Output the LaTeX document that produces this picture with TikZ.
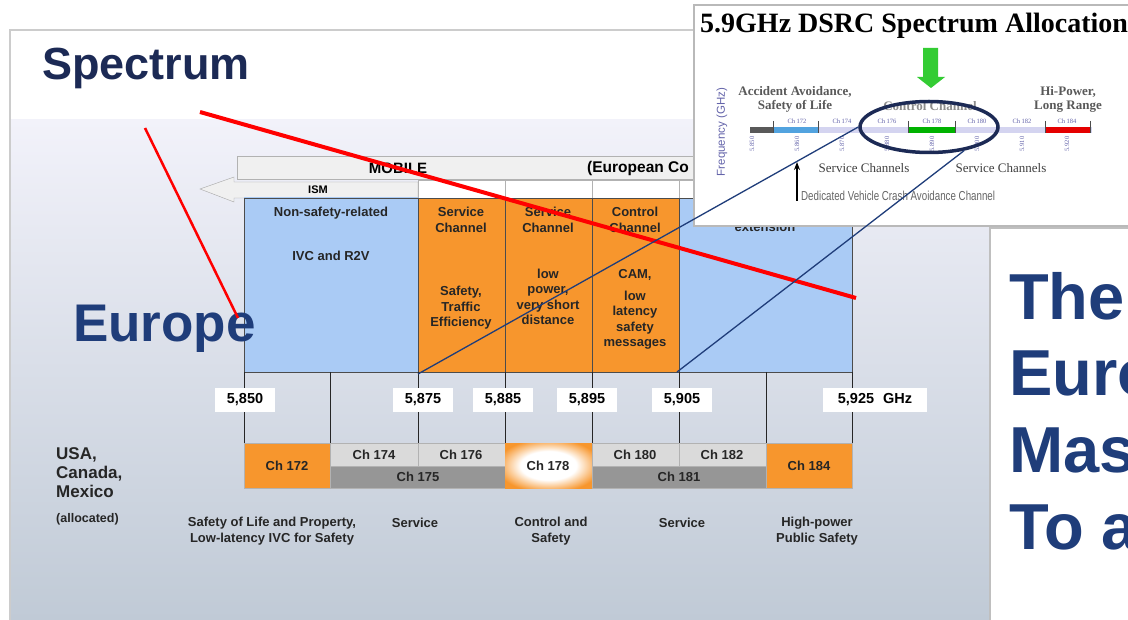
\documentclass[tikz,border=0pt]{standalone}
\usepackage{fontspec}
\setmainfont{Liberation Sans}
\newfontfamily\timesfont{Liberation Serif}
\usetikzlibrary{shapes.geometric,arrows.meta}
\definecolor{navy}{RGB}{28,42,85}
\definecolor{eublue}{RGB}{31,61,122}
\definecolor{chorange}{RGB}{247,150,45}
\definecolor{cellblue}{RGB}{170,203,245}
\definecolor{slidetop}{RGB}{242,242,250}
\definecolor{slidebot}{RGB}{192,202,214}
\definecolor{chgray}{RGB}{218,218,218}
\definecolor{chdark}{RGB}{150,150,150}
\definecolor{axispurple}{RGB}{100,100,170}
\definecolor{axisbar}{RGB}{212,212,240}
\pgfdeclareradialshading{chglow}{\pgfpoint{0bp}{0bp}}{color(0bp)=(white); color(16bp)=(white); color(30bp)=(chorange); color(100bp)=(chorange)}
\tikzset{
  bandtxt/.style={font=\bfseries\fontsize{13}{15.5}\selectfont, align=center, text=black!85, inner sep=0pt},
  freqbox/.style={fill=white, font=\bfseries\fontsize{14.5}{16}\selectfont, inner sep=0pt, minimum width=60pt, minimum height=24pt},
  chtxt/.style={font=\bfseries\fontsize{13}{15}\selectfont, text=black!85},
  cellline/.style={draw=gray!60!black, line width=0.6pt},
  bigtxt/.style={anchor=base west, inner sep=0pt, text=eublue, font=\bfseries\fontsize{65}{76}\selectfont},
  insettxt/.style={font=\timesfont\bfseries\fontsize{13}{14}\selectfont, align=center, text=black!65},
  tinytxt/.style={font=\timesfont\fontsize{6.5}{7}\selectfont, text=axispurple, inner sep=0pt},
}
\begin{document}
\begin{tikzpicture}[x=1pt,y=-1pt]
\clip (0,0) rectangle (1128,620);
% slide background
\fill[white] (0,0) rectangle (1128,620);
\shade[top color=slidetop, bottom color=slidebot] (10,120) rectangle (1128,620);
\draw[gray!40, line width=1.5pt] (10,620) -- (10,30) -- (1128,30);
\node[anchor=base west, inner sep=0pt, text=navy, font=\bfseries\fontsize{45}{50}\selectfont] (spectrum) at (42,80) {Spectrum};
% mobile and ism bars
\draw[gray!60, fill=gray!12] (237,156) rectangle (852,179);
\node[font=\bfseries\fontsize{15}{17}\selectfont] (mobile) at (398,168) {MOBILE};
\node[anchor=west, inner sep=0pt, font=\bfseries\fontsize{15.5}{17}\selectfont] (european) at (587,168) {(European Co};
\draw[gray!70, fill=gray!12] (200,189) -- (234,177) -- (234,182) -- (418,182) -- (418,198) -- (234,198) -- (234,202) -- cycle;
\node[font=\bfseries\fontsize{11}{13}\selectfont] (ism) at (318,190) {ISM};
\draw[gray!60, fill=white] (418,180) rectangle (505,198);
\draw[gray!60, fill=white] (505,180) rectangle (592,198);
\draw[gray!60, fill=white] (592,180) rectangle (679,198);
\draw[gray!60, fill=white] (679,180) rectangle (766,198);
\draw[gray!60, fill=white] (766,180) rectangle (852,198);
% europe band
\shade[top color=cellblue, middle color=white, bottom color=cellblue] (244,198) rectangle (418,372);
\draw[cellline] (244,198) rectangle (418,372);
\filldraw[fill=chorange, cellline] (418,198) rectangle (505,372);
\filldraw[fill=chorange, cellline] (505,198) rectangle (592,372);
\filldraw[fill=chorange, cellline] (592,198) rectangle (679,372);
\filldraw[fill=cellblue, cellline] (679,198) rectangle (852,372);
\node[bandtxt] (nonsafety) at (331,213) {Non-safety-related};
\node[bandtxt] (ivc) at (331,256) {IVC and R2V};
\node[bandtxt] (sch1) at (461,220) {Service\\Channel};
\node[bandtxt] (traffic) at (461,308) {Safety,\\Traffic\\Efficiency};
\node[bandtxt] (sch2) at (548,220) {Service\\Channel};
\node[bandtxt] (lowpower) at (548,297) {low\\power,\\very short\\distance};
\node[bandtxt] (cch) at (635,220) {Control\\Channel};
\node[bandtxt] (cam) at (635,275) {CAM,};
\node[bandtxt] (lowlat) at (635,320) {low\\latency\\safety\\messages};
\node[bandtxt] (ext) at (765,227) {extension};
% frequency grid
\foreach \x in {244,330,418,505,592,679,766,852}
  \draw[gray!30!black, line width=0.6pt] (\x,372) -- (\x,443);
\node[freqbox] (f850) at (245,400) {5,850};
\node[freqbox] (f875) at (423,400) {5,875};
\node[freqbox] (f885) at (503,400) {5,885};
\node[freqbox] (f895) at (587,400) {5,895};
\node[freqbox] (f905) at (682,400) {5,905};
\node[freqbox, minimum width=104pt] (f925) at (875,400) {5,925\hspace{9pt}GHz};
% us channels
\filldraw[fill=chorange, draw=gray!60] (244,443) rectangle (330,488);
\filldraw[fill=chgray, draw=gray!60] (330,443) rectangle (418,466);
\filldraw[fill=chgray, draw=gray!60] (418,443) rectangle (505,466);
\filldraw[fill=chdark, draw=gray!60] (330,466) rectangle (505,488);
\shade[shading=chglow] (505,443) rectangle (592,488);
\filldraw[fill=chgray, draw=gray!60] (592,443) rectangle (679,466);
\filldraw[fill=chgray, draw=gray!60] (679,443) rectangle (766,466);
\filldraw[fill=chdark, draw=gray!60] (592,466) rectangle (766,488);
\filldraw[fill=chorange, draw=gray!60] (766,443) rectangle (852,488);
\node[chtxt] (ch172) at (287,466) {Ch 172};
\node[chtxt] (ch174) at (374,455) {Ch 174};
\node[chtxt] (ch176) at (461,455) {Ch 176};
\node[chtxt] (ch175) at (418,477) {Ch 175};
\node[chtxt] (ch178) at (548,466) {Ch 178};
\node[chtxt] (ch180) at (635,455) {Ch 180};
\node[chtxt] (ch182) at (722,455) {Ch 182};
\node[chtxt] (ch181) at (679,477) {Ch 181};
\node[chtxt] (ch184) at (809,466) {Ch 184};
\node[anchor=north west, inner sep=0pt, align=left, text=black!85, font=\bfseries\fontsize{17}{19}\selectfont] (usa) at (56,447) {USA,\\Canada,\\Mexico};
\node[anchor=west, inner sep=0pt, text=black!85, font=\bfseries\fontsize{12.5}{14}\selectfont] (alloc) at (56,519) {(allocated)};
\node[bandtxt] (solp) at (272,531) {Safety of Life and Property,\\Low-latency IVC for Safety};
\node[bandtxt] (serv1) at (415,523) {Service};
\node[bandtxt] (ctrl) at (551,531) {Control and\\Safety};
\node[bandtxt] (serv2) at (682,523) {Service};
\node[bandtxt] (hipow) at (817,531) {High-power\\Public Safety};
\node[anchor=base west, inner sep=0pt, text=eublue, font=\bfseries\fontsize{53}{58}\selectfont] (europe) at (73,342) {Europe};
% right text box
\fill[white] (990,228) rectangle (1130,625);
\draw[gray!50, line width=1.5pt] (990,625) -- (990,228) -- (1130,228);
\node[bigtxt] (the) at (1009,320) {The};
\node[bigtxt] (euro) at (1009,396) {Euro};
\node[bigtxt] (mas) at (1009,472) {Mas};
\node[bigtxt] (toa) at (1009,549) {To a};
% dsrc inset
\filldraw[fill=white, draw=gray!55, line width=2pt] (694,5) rectangle (1140,226);
\node[anchor=base west, inner sep=0pt, font=\timesfont\bfseries\fontsize{28}{30}\selectfont] (title) at (700,33) {5.9GHz DSRC Spectrum Allocation};
\fill[green!75!black!80] (923,48) -- (938,48) -- (938,77) -- (945,77) -- (931,88) -- (917,77) -- (923,77) -- cycle;
\node[insettxt] (accident) at (795,99) {Accident Avoidance,\\Safety of Life};
\node[insettxt] (hipower) at (1068,99) {Hi-Power,\\Long Range};
\node[insettxt, text=black!45] (control) at (930,106) {Control Channel};
\node[rotate=90, text=axispurple, font=\fontsize{11.5}{12}\selectfont] (freqaxis) at (722,132) {Frequency (GHz)};
\fill[axisbar] (750,127) rectangle (1092,133);
\fill[gray!70!black] (750,127) rectangle (773,133);
\fill[cyan!70!blue!70] (773,127) rectangle (818,133);
\fill[green!70!black] (908,127) rectangle (955,133);
\fill[red!90!black] (1045,127) rectangle (1090,133);
\foreach \x in {773,818,908,955,1045,1090}
  \draw[black!70, line width=0.5pt] (\x,121) -- (\x,133);
\foreach \c [count=\i] in {172,174,176,178,180,182,184}
  \node[tinytxt] (axch\c) at (752+45*\i,121) {Ch \c};
\foreach \f [count=\i] in {850,860,870,880,890,900,910,920}
  \node[tinytxt, rotate=90] (axf\f) at (707+45*\i,144) {5.\f};
\node[ellipse, draw=navy, line width=3.5pt, minimum width=138pt, minimum height=51pt, inner sep=0pt] (oval) at (929,127) {};
\node[text=black!75, font=\timesfont\fontsize{13}{15}\selectfont] (serv3) at (864,168) {Service Channels};
\node[text=black!75, font=\timesfont\fontsize{13}{15}\selectfont] (serv4) at (1001,168) {Service Channels};
\coordinate (arrowfoot) at (797,201);
\coordinate (arrowtip) at (797,162);
\draw[-{Stealth[length=8pt,width=6pt]}, line width=1.3pt] (arrowfoot) -- (arrowtip);
\node[anchor=west, inner sep=0pt, text=black!60, font=\fontsize{13}{15}\selectfont] (dedicated) at (801,196) {\scalebox{0.75}[1]{Dedicated Vehicle Crash Avoidance Channel}};
% pointer lines
\coordinate (red1a) at (200,112);
\coordinate (red1b) at (856,298);
\coordinate (red2a) at (145,128);
\coordinate (red2b) at (238,318);
\draw[red, line width=4pt] (red1a) -- (red1b);
\draw[red, line width=2.5pt] (red2a) -- (red2b);
\coordinate (low875) at (418,374);
\coordinate (low905) at (677,372);
\draw[eublue, line width=1.3pt] (low875) -- (oval.west);
\draw[eublue, line width=1.3pt] (low905) -- (oval.-34);
\end{tikzpicture}
\end{document}
